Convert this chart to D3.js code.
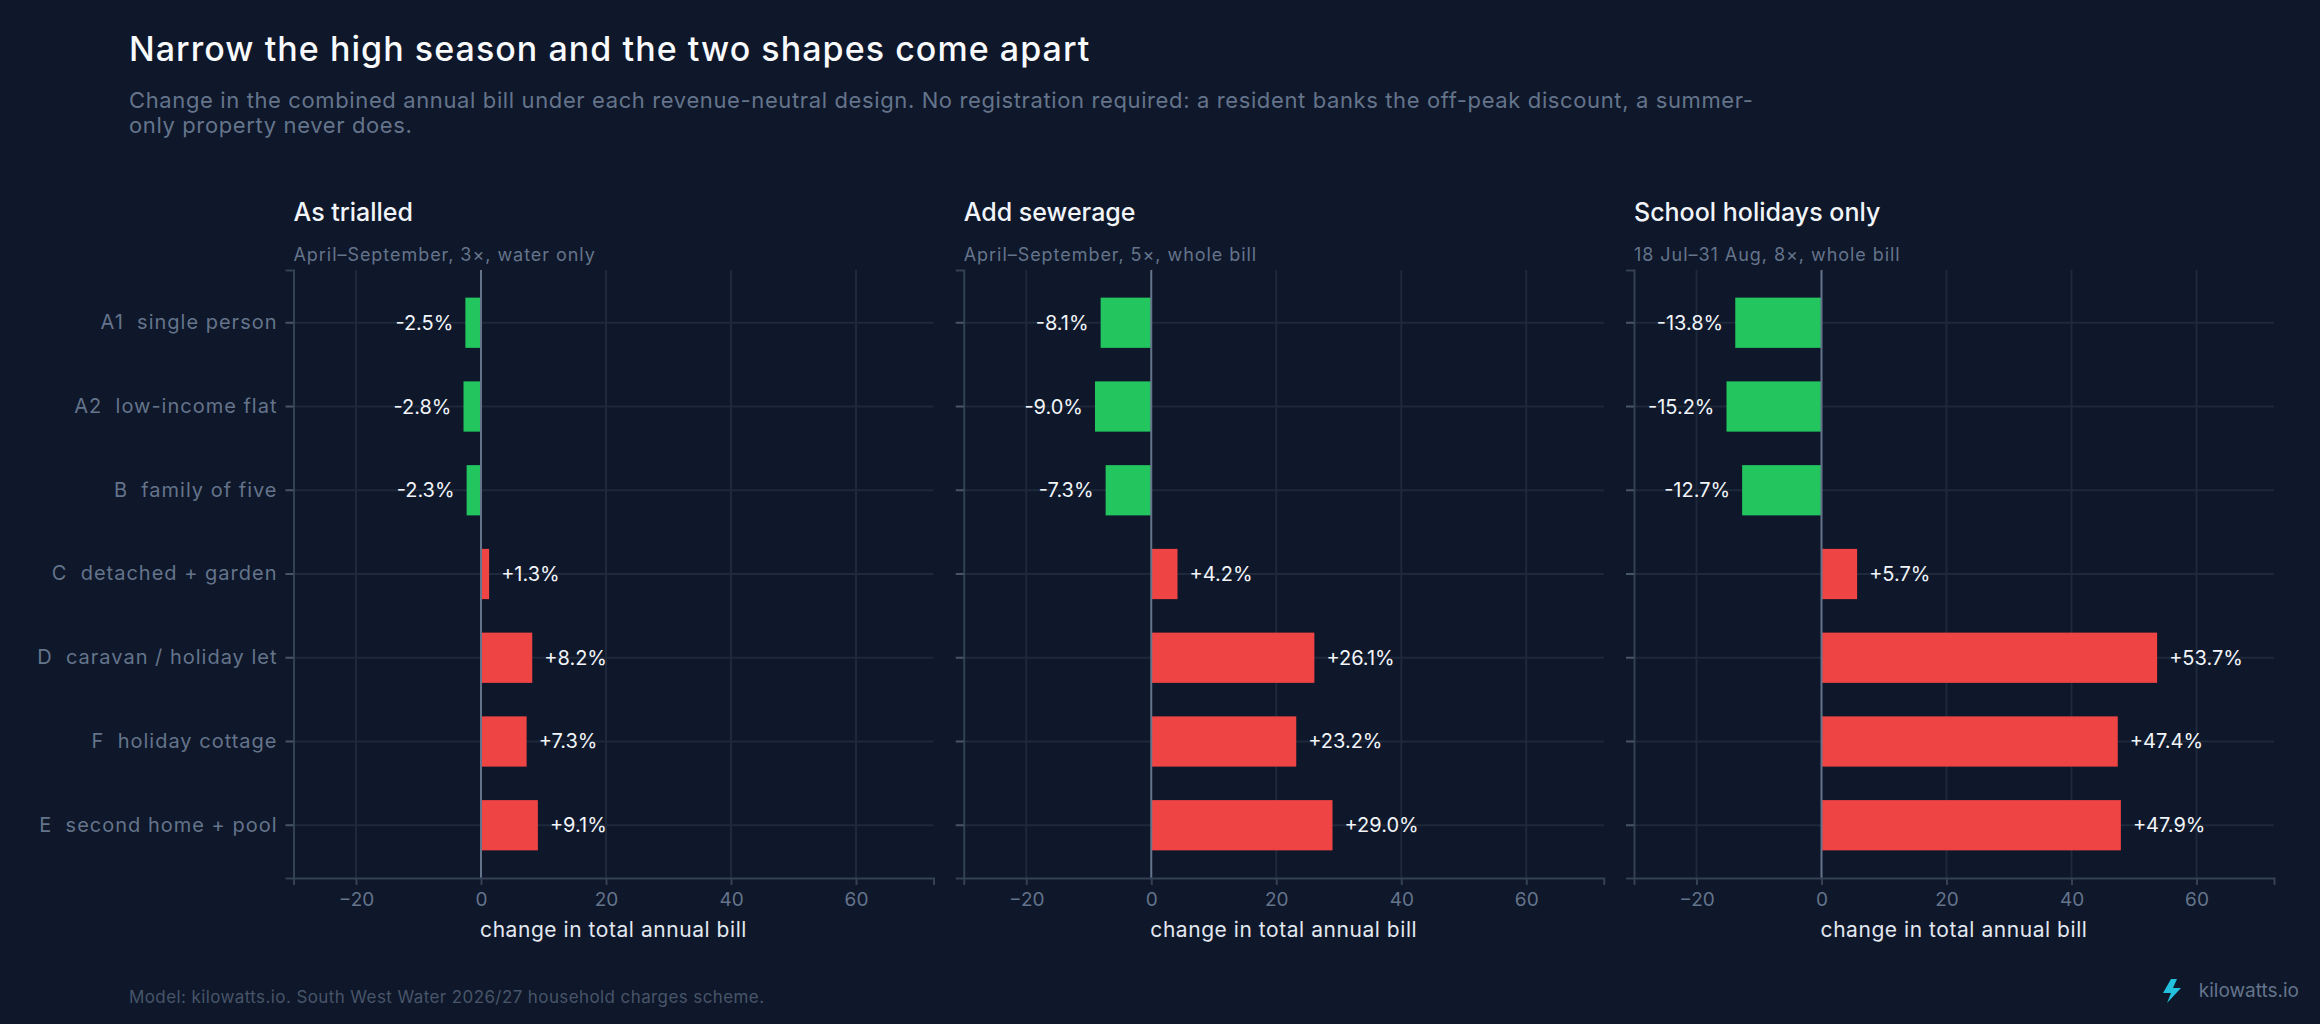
<!DOCTYPE html>
<html>
<head>
<meta charset="utf-8">
<script src="https://cdn.jsdelivr.net/npm/d3@7"></script>
<style>
  body { margin: 0; background: #0f172a; }
  text { font-family: Inter, "Noto Sans", sans-serif; }
</style>
</head>
<body>
<div id="chart"></div>
<script>
var categories = [
    "A1  single person",
    "A2  low-income flat",
    "B  family of five",
    "C  detached + garden",
    "D  caravan / holiday let",
    "F  holiday cottage",
    "E  second home + pool"
];

var panelTitles = ["As trialled", "Add sewerage", "School holidays only"];
var panelNotes = [
    "April\u2013September, 3\u00d7, water only",
    "April\u2013September, 5\u00d7, whole bill",
    "18 Jul\u201331 Aug, 8\u00d7, whole bill"
];

var asTrialled = [-2.5, -2.8, -2.3, 1.3, 8.2, 7.3, 9.1];
var addSewerage = [-8.1, -9.0, -7.3, 4.2, 26.1, 23.2, 29.0];
var schoolHolidays = [-13.8, -15.2, -12.7, 5.7, 53.7, 47.4, 47.9];

var xTicks = [-20, 0, 20, 40, 60];

var chart = function() {
    var width = 2320, height = 1024;
    var panelLeft = 293.5, panelStep = 670.25, panelWidth = 640;
    var plotTop = 270, plotBottom = 878;

    var series = [asTrialled, addSewerage, schoolHolidays];

    var svg = d3.select("#chart")
                .append("svg")
                .attr("width", width)
                .attr("height", height);

    svg.append("rect")
       .attr("width", width)
       .attr("height", height)
       .attr("fill", "#0f172a");

    // Headline and standfirst
    svg.append("text")
       .attr("x", 129)
       .attr("y", 61)
       .attr("fill", "#f8fafc")
       .attr("font-size", 34)
       .attr("font-weight", 500)
       .attr("letter-spacing", 1.05)
       .text("Narrow the high season and the two shapes come apart");

    var sub = svg.append("text")
                 .attr("x", 129)
                 .attr("y", 108)
                 .attr("fill", "#64748b")
                 .attr("font-size", 22)
                 .attr("letter-spacing", 0.62);
    sub.append("tspan")
       .attr("x", 129)
       .text("Change in the combined annual bill under each revenue-neutral design. No registration required: a resident banks the off-peak discount, a summer-");
    sub.append("tspan")
       .attr("x", 129)
       .attr("dy", 24.6)
       .text("only property never does.");

    var x = d3.scaleLinear()
              .domain([-30, 72.4])
              .range([0, panelWidth]);

    var y = d3.scaleBand()
              .domain(categories)
              .range([plotTop, plotBottom])
              .paddingInner(0.4)
              .paddingOuter(0.33);

    series.forEach(function(values, p) {
        var g = svg.append("g")
                   .attr("transform", "translate(" + (panelLeft + p * panelStep) + ",0)");

        g.append("text")
         .attr("x", 0)
         .attr("y", 221)
         .attr("fill", "#f1f5f9")
         .attr("font-size", 25)
         .attr("font-weight", 500)
         .text(panelTitles[p]);

        g.append("text")
         .attr("x", 0)
         .attr("y", 261)
         .attr("fill", "#64748b")
         .attr("font-size", 18)
         .attr("letter-spacing", 0.95)
         .text(panelNotes[p]);

        // grid
        g.selectAll(".vgrid")
         .data(xTicks.filter(function(t) { return t !== 0; }))
         .enter()
         .append("line")
             .attr("x1", function(d) { return x(d); })
             .attr("x2", function(d) { return x(d); })
             .attr("y1", plotTop)
             .attr("y2", plotBottom)
             .attr("stroke", "#1e293b")
             .attr("stroke-width", 2);

        g.selectAll(".hgrid")
         .data(categories)
         .enter()
         .append("line")
             .attr("x1", 0)
             .attr("x2", panelWidth)
             .attr("y1", function(d) { return y(d) + y.bandwidth() / 2; })
             .attr("y2", function(d) { return y(d) + y.bandwidth() / 2; })
             .attr("stroke", "#1e293b")
             .attr("stroke-width", 2);

        // bars
        g.selectAll(".bar")
         .data(values)
         .enter()
         .append("rect")
             .attr("x", function(d) { return x(Math.min(0, d)); })
             .attr("y", function(d, i) { return y(categories[i]); })
             .attr("width", function(d) { return Math.abs(x(d) - x(0)); })
             .attr("height", y.bandwidth())
             .attr("fill", function(d) { return d < 0 ? "#22c55e" : "#ef4444"; });

        g.selectAll(".val")
         .data(values)
         .enter()
         .append("text")
             .attr("x", function(d) { return d < 0 ? x(d) - 12 : x(d) + 12; })
             .attr("y", function(d, i) { return y(categories[i]) + y.bandwidth() / 2; })
             .attr("dy", "0.35em")
             .attr("text-anchor", function(d) { return d < 0 ? "end" : "start"; })
             .attr("fill", "#f1f5f9")
             .attr("font-size", 20)
             .text(function(d) { return (d > 0 ? "+" : "") + d.toFixed(1) + "%"; });

        // zero line
        g.append("line")
         .attr("x1", x(0))
         .attr("x2", x(0))
         .attr("y1", plotTop)
         .attr("y2", plotBottom)
         .attr("stroke", "#64748b")
         .attr("stroke-width", 2);

        // axes
        var yAxis = g.append("g")
                     .call(d3.axisLeft(y).tickSize(8).tickPadding(8)
                             .tickFormat(p === 0 ? null : ""));
        yAxis.select(".domain").attr("stroke", "#334155").attr("stroke-width", 2);
        yAxis.selectAll(".tick line").attr("stroke", "#475569").attr("stroke-width", 2);
        yAxis.selectAll(".tick text")
             .attr("fill", "#64748b")
             .attr("font-size", 20)
             .attr("letter-spacing", 1)
             .style("white-space", "pre");

        var xAxis = g.append("g")
                     .attr("transform", "translate(0," + plotBottom + ")")
                     .call(d3.axisBottom(x).tickValues(xTicks).tickSize(7).tickPadding(8));
        xAxis.select(".domain").attr("stroke", "#334155").attr("stroke-width", 2);
        xAxis.selectAll(".tick line").attr("stroke", "#334155").attr("stroke-width", 2);
        xAxis.selectAll(".tick text")
             .attr("fill", "#64748b")
             .attr("font-size", 19);

        g.append("text")
         .attr("x", panelWidth / 2)
         .attr("y", 937)
         .attr("text-anchor", "middle")
         .attr("fill", "#e2e8f0")
         .attr("font-size", 21)
         .attr("letter-spacing", 0.55)
         .text("change in total annual bill");
    });

    // footer
    svg.append("text")
       .attr("x", 129)
       .attr("y", 1003)
       .attr("fill", "#475569")
       .attr("font-size", 17)
       .attr("letter-spacing", 0.4)
       .text("Model: kilowatts.io. South West Water 2026/27 household charges scheme.");

    svg.append("path")
       .attr("d", "M2171,979 L2163,993 L2171,993 L2167,1003 L2181,988 L2173,988 L2177,979 Z")
       .attr("fill", "#22c0dc");

    svg.append("text")
       .attr("x", 2299)
       .attr("y", 997)
       .attr("text-anchor", "end")
       .attr("fill", "#64748b")
       .attr("font-size", 19)
       .text("kilowatts.io");
};

chart();
</script>
</body>
</html>
